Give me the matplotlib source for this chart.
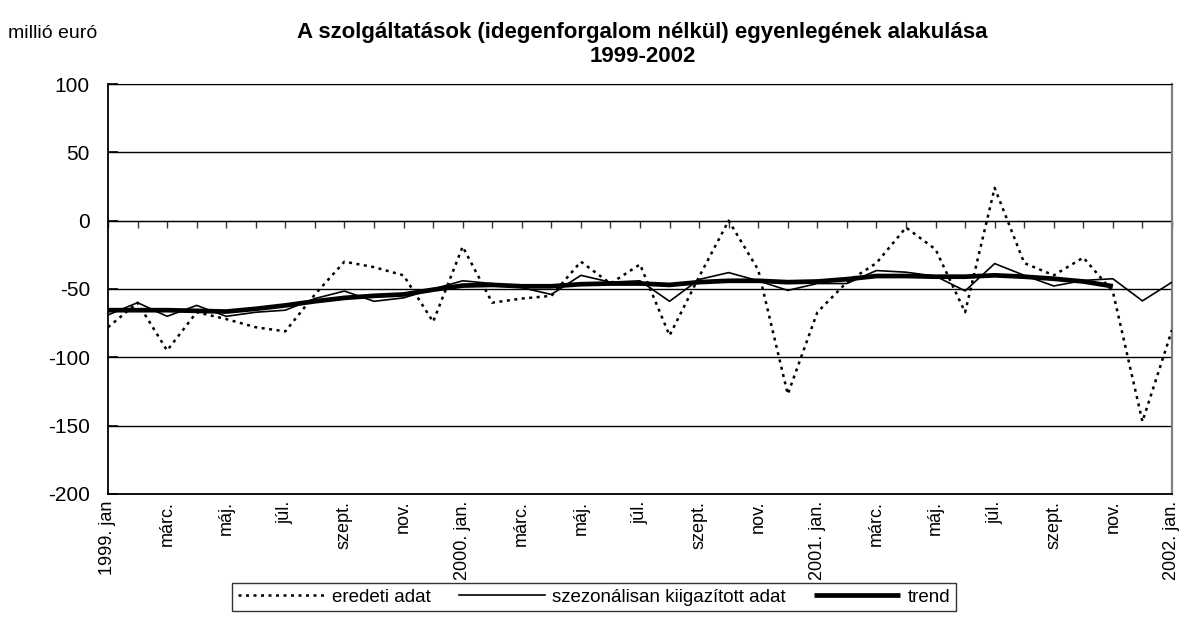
import numpy as np
import matplotlib
matplotlib.use("Agg")
import matplotlib.pyplot as plt

plt.rcParams["font.family"] = ["Liberation Sans", "DejaVu Sans"]
plt.rcParams["axes.unicode_minus"] = False

# havi adatok 1999 jan - 2002 jan (millió euró)
eredeti_adat = [-78, -60, -95, -67, -72, -78, -81, -54, -30, -34, -40, -74,
                -19, -60, -57, -55, -30, -46, -32, -84, -41, 0, -36, -127,
                -67, -45, -31, -5, -21, -67, 24, -31, -40, -27, -52, -147,
                -80]
szezonalisan_kiigazitott = [-69, -60, -70, -62, -70, -67, -65.5, -57, -51.5, -59, -56.5, -50,
                            -44, -46, -49, -54, -40, -45, -44, -59, -43, -38, -44, -51,
                            -46, -46, -36.5, -37.7, -40.6, -51.4, -31.4, -40, -47.8, -43.7, -42.5, -58.7,
                            -45]
trend = [-65.5, -65.5, -65.5, -66, -66.5, -64.5, -62, -59, -56.5, -55, -54, -50.5,
         -47.5, -47, -48, -48, -46.5, -46, -46, -47, -45, -44, -44, -45,
         -44.5, -42.8, -40.5, -40.5, -41, -41, -40, -41, -42.5, -44.5, -48, np.nan,
         np.nan]

tick_labels = ["1999. jan", "márc.", "máj.", "júl.", "szept.", "nov.",
               "2000. jan.", "márc.", "máj.", "júl.", "szept.", "nov.",
               "2001. jan.", "márc.", "máj.", "júl.", "szept.", "nov.",
               "2002. jan."]

x = np.arange(len(eredeti_adat))

fig = plt.figure(figsize=(11.79, 6.4), dpi=100)
ax = fig.add_axes([108 / 1179, 1 - 494 / 640, 1064 / 1179, 410 / 640])

ax.plot(x, eredeti_adat, color="black", lw=1.8, linestyle=(0, (1.2, 1.8)),
        label="eredeti adat", zorder=3)
ax.plot(x, szezonalisan_kiigazitott, color="black", lw=1.2,
        label="szezonálisan kiigazított adat", zorder=4)
ax.plot(x, trend, color="black", lw=3.4, solid_capstyle="butt",
        label="trend", zorder=5)

ax.set_xlim(0, len(x) - 1)
ax.set_ylim(-200, 100)
ax.set_yticks(np.arange(-200, 101, 50))
ax.yaxis.grid(True, color="black", lw=1.0)
ax.set_axisbelow(True)
ax.tick_params(axis="y", direction="in", length=7, width=1.2, labelsize=15, pad=13)

ax.set_xticks(x[::2])
ax.set_xticklabels(tick_labels, rotation=90, fontsize=13, va="top")
ax.tick_params(axis="x", length=0, pad=5)

for side in ["left", "bottom"]:
    ax.spines[side].set_color("black")
    ax.spines[side].set_linewidth(1.3)
ax.spines["top"].set_color("black")
ax.spines["right"].set_color("#808080")
ax.spines["right"].set_linewidth(1.6)

# kategória tengely a 0 vonalon, havi osztásokkal (lefelé)
zero = (0 - (-200)) / 300
sec = ax.secondary_xaxis(zero)
sec.set_xticks(x)
sec.set_xticklabels([])
sec.tick_params(axis="x", direction="in", length=5, width=1.0, color="#333333")

fig.text(0.545, 0.931, "A szolgáltatások (idegenforgalom nélkül) egyenlegének alakulása\n1999-2002",
         ha="center", va="center", fontsize=16, fontweight="bold", linespacing=1.2)
fig.text(0.007, 0.948, "millió euró", ha="left", va="center", fontsize=14)

leg = fig.legend(loc="center", bbox_to_anchor=(0.504, 0.067), ncol=3, fontsize=13.5,
                 handlelength=4.6, handletextpad=0.4, columnspacing=1.5,
                 frameon=True, fancybox=False, borderpad=0.3)
leg.get_frame().set_edgecolor("black")
leg.get_frame().set_linewidth(1.0)

fig.savefig("out.png", dpi=100)
